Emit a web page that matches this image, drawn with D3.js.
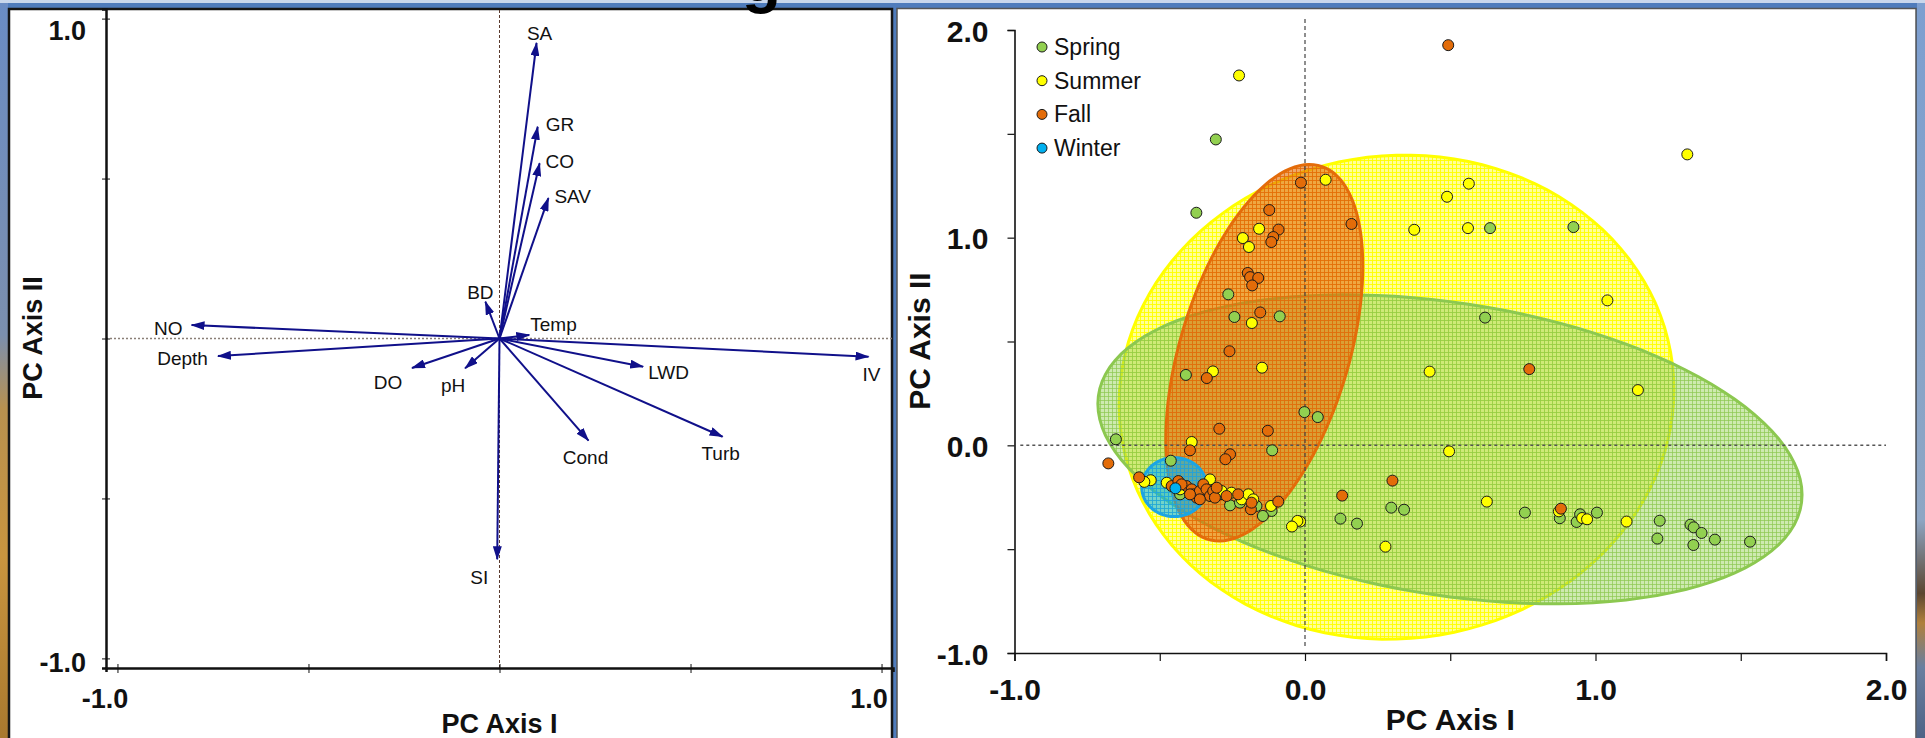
<!DOCTYPE html>
<html>
<head>
<meta charset="utf-8">
<script src="https://cdn.jsdelivr.net/npm/d3@7"></script>
<style>
body { margin: 0; background: #4f7cbc; overflow: hidden; }
svg { display: block; }
text { font-family: "Liberation Sans", Arial, Helvetica, sans-serif; }
</style>
</head>
<body>
<div id="chart"></div>
<script>
// ---- left plot: PCA loadings ----
const variables   = ["SA", "GR", "CO", "SAV", "BD", "Temp", "NO", "Depth", "IV", "LWD", "DO", "pH", "Cond", "Turb", "SI"];
const pc1Loadings = [0.097, 0.100, 0.105, 0.128, -0.037, 0.078, -0.806, -0.737, 0.966, 0.376, -0.229, -0.090, 0.233, 0.584, -0.006];
const pc2Loadings = [0.924, 0.662, 0.548, 0.439, 0.115, 0.011, 0.042, -0.055, -0.057, -0.088, -0.092, -0.093, -0.319, -0.307, -0.690];

// ---- right plot: site scores by season, [PC I, PC II] ----
const seasons = ["Spring", "Summer", "Fall", "Winter"];
const springScores = [[-0.307,1.473],[-0.374,1.12],[0.637,1.046],[0.924,1.051],[0.62,0.615],[-0.264,0.727],[-0.243,0.618],
  [-0.087,0.621],[-0.41,0.339],[-0.002,0.16],[0.044,0.136],[-0.651,0.029],[-0.113,-0.024],[-0.462,-0.074],[0.297,-0.3],
  [0.341,-0.31],[0.122,-0.353],[0.179,-0.377],[0.757,-0.324],[0.877,-0.351],[0.935,-0.369],[0.947,-0.332],[1.005,-0.324],
  [1.221,-0.363],[1.213,-0.449],[1.327,-0.382],[1.338,-0.395],[1.365,-0.422],[1.337,-0.48],[1.411,-0.454],[1.532,-0.464],
  [-0.258,-0.289],[-0.115,-0.316],[-0.145,-0.34],[-0.43,-0.236],[-0.293,-0.236],[-0.167,-0.292],[-0.224,-0.276]];
const summerScores = [[-0.227,1.781],[1.316,1.401],[0.071,1.279],[0.564,1.26],[0.489,1.197],[0.376,1.038],[0.561,1.046],
  [1.041,0.698],[-0.158,1.043],[-0.214,0.998],[-0.193,0.955],[-0.183,0.589],[-0.317,0.356],[-0.148,0.374],[0.429,0.355],
  [1.146,0.266],[-0.39,0.016],[0.496,-0.029],[0.626,-0.271],[0.277,-0.488],[-0.017,-0.367],[0.874,-0.318],[0.954,-0.35],
  [0.971,-0.356],[1.107,-0.367],[-0.531,-0.168],[-0.553,-0.176],[-0.117,-0.292],[-0.026,-0.364],[-0.045,-0.391],
  [-0.476,-0.18],[-0.43,-0.212],[-0.327,-0.164],[-0.287,-0.22],[-0.253,-0.228],[-0.218,-0.26],[-0.195,-0.236],[-0.178,-0.26]];
const fallScores = [[0.493,1.927],[-0.014,1.265],[0.16,1.066],[-0.123,1.133],[-0.091,1.039],[-0.109,1.003],[-0.116,0.979],
  [-0.197,0.83],[-0.189,0.81],[-0.161,0.806],[-0.182,0.77],[-0.154,0.64],[-0.26,0.453],[-0.338,0.324],[-0.295,0.08],
  [-0.128,0.07],[-0.396,-0.024],[-0.258,-0.043],[-0.274,-0.067],[-0.677,-0.087],[-0.571,-0.154],[0.772,0.367],[0.301,-0.17],
  [0.128,-0.242],[0.881,-0.305],[-0.186,-0.308],[-0.092,-0.271],[-0.459,-0.196],[-0.436,-0.172],[-0.408,-0.196],
  [-0.39,-0.212],[-0.384,-0.236],[-0.373,-0.252],[-0.362,-0.22],[-0.35,-0.188],[-0.339,-0.212],[-0.327,-0.244],
  [-0.316,-0.22],[-0.31,-0.252],[-0.304,-0.204],[-0.27,-0.244],[-0.23,-0.236],[-0.184,-0.276],[-0.362,-0.26],
  [-0.396,-0.236],[-0.425,-0.188]];
const winterScores = [[-0.446,-0.207]];

// season ellipses: centre and two conjugate semi-axes (PC units)
const ellipseCentres = [[0.499, -0.019], [0.315, 0.232], [-0.14, 0.446], [-0.45, -0.201]];
const ellipseAxisA   = [[1.212, -0.219], [0.955, 0.036], [0.339, 0.417], [0.112, 0]];
const ellipseAxisB   = [[0, 0.711], [0, 1.165], [0, 0.805], [0, 0.142]];

const leftTicks  = [-1, -0.5, 0, 0.5, 1];
const rightTicks = [-1, -0.5, 0, 0.5, 1, 1.5, 2];

const width = 1925, height = 738;
const seasonFill   = ["#92d050", "#ffff00", "#e36c09", "#00b0f0"];
const seasonStroke = ["#8cc850", "#ffff00", "#e46c0a", "#1ba5e3"];

const svg = d3.select("#chart").append("svg")
  .attr("width", width)
  .attr("height", height);

const defs = svg.append("defs");

// backdrop strips (slide background)
const gl = defs.append("linearGradient").attr("id", "leftStrip").attr("x1", 0).attr("y1", 0).attr("x2", 0).attr("y2", 1);
[["0%", "#6a8cc4"], ["45%", "#7b8fae"], ["55%", "#b8914f"], ["75%", "#c9953f"], ["100%", "#a8782e"]]
  .forEach(s => gl.append("stop").attr("offset", s[0]).attr("stop-color", s[1]));
const gr = defs.append("linearGradient").attr("id", "rightStrip").attr("x1", 0).attr("y1", 0).attr("x2", 0).attr("y2", 1);
[["0%", "#7d9fd0"], ["70%", "#8ea6c4"], ["80%", "#5b4630"], ["84%", "#b0803c"], ["90%", "#6a7fa0"], ["100%", "#4d6285"]]
  .forEach(s => gr.append("stop").attr("offset", s[0]).attr("stop-color", s[1]));

svg.append("rect").attr("width", width).attr("height", height).attr("fill", "#4f7cbc");
svg.append("rect").attr("width", width).attr("height", 3).attr("fill", "#c9d7ec");
svg.append("rect").attr("x", 0).attr("y", 3).attr("width", 8).attr("height", height).attr("fill", "url(#leftStrip)");
svg.append("rect").attr("x", 1917).attr("y", 3).attr("width", 8).attr("height", height).attr("fill", "url(#rightStrip)");

// panels
svg.append("rect").attr("x", 9).attr("y", 9).attr("width", 883).attr("height", 760)
  .attr("fill", "white").attr("stroke", "#151515").attr("stroke-width", 2.5);
svg.append("rect").attr("x", 897).attr("y", 8.5).attr("width", 1019).attr("height", 760)
  .attr("fill", "white").attr("stroke", "#555").attr("stroke-width", 1.5);

// title descender peeking in at the top
svg.append("text").attr("x", 742).attr("y", 1)
  .style("font-size", "64px").style("font-weight", "bold").attr("fill", "#000").text("g");

// ================= left: loadings biplot =================
const xL = d3.scaleLinear().domain([-1.03, 1.03]).range([106, 893]);
const yL = d3.scaleLinear().domain([-1.03, 1.03]).range([668, 9]);

// zero reference lines
svg.append("line").attr("x1", xL.range()[0]).attr("x2", xL.range()[1]).attr("y1", yL(0)).attr("y2", yL(0))
  .attr("stroke", "#8a7f77").attr("stroke-width", 1.5).attr("stroke-dasharray", "2,2");
svg.append("line").attr("x1", xL(0)).attr("x2", xL(0)).attr("y1", 10).attr("y2", yL.range()[0])
  .attr("stroke", "#5a3b2e").attr("stroke-width", 1).attr("stroke-dasharray", "3,2");

const gyL = svg.append("g").attr("transform", `translate(${xL.range()[0]},0)`)
  .call(d3.axisLeft(yL).tickValues(leftTicks).tickSizeOuter(0).tickSize(4)
    .tickFormat(d => Math.abs(d) === 1 ? d.toFixed(1) : ""));
gyL.selectAll(".tick line").attr("x1", -4).attr("x2", 4).attr("stroke", "#111");
gyL.selectAll(".tick text").attr("x", -20).attr("dy", null)
  .attr("y", d => d === 1 ? 21 : 13)
  .style("font-size", "27px").style("font-weight", "bold").attr("fill", "#111");

const gxL = svg.append("g").attr("transform", `translate(0,${yL.range()[0]})`)
  .call(d3.axisBottom(xL).tickValues(leftTicks).tickSizeOuter(0).tickSize(4)
    .tickFormat(d => Math.abs(d) === 1 ? d.toFixed(1) : ""));
gxL.selectAll(".tick line").attr("y1", -4).attr("y2", 5).attr("stroke", "#111");
gxL.selectAll(".tick text").attr("dy", null).attr("y", 40).attr("x", -13)
  .style("font-size", "27px").style("font-weight", "bold").attr("fill", "#111");
[gyL, gxL].forEach(g => g.select(".domain").attr("stroke", "#111").attr("stroke-width", 2.5));

svg.append("text").attr("x", xL(0)).attr("y", 733).attr("text-anchor", "middle")
  .style("font-size", "27px").style("font-weight", "bold").attr("fill", "#111").text("PC Axis I");
svg.append("text").attr("transform", "translate(42,338) rotate(-90)").attr("text-anchor", "middle")
  .style("font-size", "27px").style("font-weight", "bold").attr("fill", "#111").text("PC Axis II");

defs.append("marker").attr("id", "arrowHead")
  .attr("viewBox", "0 0 14 9").attr("refX", 13).attr("refY", 4.5)
  .attr("markerUnits", "userSpaceOnUse").attr("markerWidth", 14).attr("markerHeight", 9)
  .attr("orient", "auto")
  .append("path").attr("d", "M0,0L14,4.5L0,9Z").attr("fill", "#10108a");

const loadings = variables.map((v, i) => ({name: v, pc1: pc1Loadings[i], pc2: pc2Loadings[i]}));

svg.append("g").selectAll("line")
  .data(loadings)
  .join("line")
  .attr("x1", xL(0)).attr("y1", yL(0))
  .attr("x2", d => xL(d.pc1)).attr("y2", d => yL(d.pc2))
  .attr("stroke", "#10108a").attr("stroke-width", 2)
  .attr("marker-end", "url(#arrowHead)");

// label offsets from arrow tip (px) and anchor
const labelPlacement = {
  SA: [3, -10, "middle"], GR: [8, -3, "start"], CO: [6, -2, "start"], SAV: [6, -2, "start"],
  BD: [-5, -10, "middle"], Temp: [1, -11, "start"], NO: [-9, 3, "end"], Depth: [-10, 2, "end"],
  IV: [3, 17, "middle"], LWD: [5, 5, "start"], DO: [-24, 14, "middle"], pH: [-12, 17, "middle"],
  Cond: [-3, 16, "middle"], Turb: [-2, 16, "middle"], SI: [-18, 18, "middle"]
};

svg.append("g").selectAll("text")
  .data(loadings)
  .join("text")
  .attr("x", d => xL(d.pc1) + labelPlacement[d.name][0])
  .attr("y", d => yL(d.pc2) + labelPlacement[d.name][1] + 7)
  .attr("text-anchor", d => labelPlacement[d.name][2])
  .style("font-size", "19px").attr("fill", "#111")
  .text(d => d.name);

// ================= right: site scores =================
const xR = d3.scaleLinear().domain([-1, 2]).range([1014.5, 1886]);
const yR = d3.scaleLinear().domain([-1, 2]).range([653, 30]);

// grid-hatched fills for the ellipses
const baseOpacity = [0.45, 0.4, 0.6, 0.55];
const lineOpacity = [0.7, 0.9, 0.85, 0.8];
seasons.forEach((s, i) => {
  const p = defs.append("pattern").attr("id", "grid" + i)
    .attr("patternUnits", "userSpaceOnUse").attr("width", 4).attr("height", 4);
  p.append("rect").attr("width", 4).attr("height", 4)
    .attr("fill", seasonFill[i]).attr("fill-opacity", baseOpacity[i]);
  p.append("path").attr("d", "M0,0.5H4M0.5,0V4")
    .attr("stroke", seasonStroke[i]).attr("stroke-opacity", lineOpacity[i]).attr("stroke-width", 1);
});

function ellipsePoints(c, a, b) {
  return d3.range(120).map(k => {
    const t = k / 120 * 2 * Math.PI;
    return [c[0] + a[0] * Math.cos(t) + b[0] * Math.sin(t), c[1] + a[1] * Math.cos(t) + b[1] * Math.sin(t)];
  });
}
const ellLine = d3.line().x(d => xR(d[0])).y(d => yR(d[1])).curve(d3.curveLinearClosed);

// draw order: Summer, Spring, Fall, Winter
[1, 0, 2, 3].forEach(i => {
  svg.append("path")
    .attr("d", ellLine(ellipsePoints(ellipseCentres[i], ellipseAxisA[i], ellipseAxisB[i])))
    .attr("fill", `url(#grid${i})`)
    .attr("stroke", seasonStroke[i]).attr("stroke-width", 3);
});

// zero reference lines
svg.append("line").attr("x1", xR(-0.98)).attr("x2", xR(2)).attr("y1", yR(0)).attr("y2", yR(0))
  .attr("stroke", "#555").attr("stroke-width", 1.5).attr("stroke-dasharray", "3,3");
svg.append("line").attr("x1", xR(0)).attr("x2", xR(0)).attr("y1", 19).attr("y2", yR(-0.97))
  .attr("stroke", "#444").attr("stroke-width", 1.2).attr("stroke-dasharray", "4,3");

const allScores = [springScores, summerScores, fallScores, winterScores];
allScores.forEach((scores, i) => {
  svg.append("g").selectAll("circle")
    .data(scores)
    .join("circle")
    .attr("cx", d => xR(d[0]))
    .attr("cy", d => yR(d[1]))
    .attr("r", 5.5)
    .attr("fill", seasonFill[i])
    .attr("stroke", "#1a1a1a").attr("stroke-width", 1);
});

const gyR = svg.append("g").attr("transform", `translate(${xR.range()[0]},0)`)
  .call(d3.axisLeft(yR).tickValues(rightTicks).tickSizeOuter(0).tickSize(7).tickPadding(19)
    .tickFormat(d => Number.isInteger(d) ? d.toFixed(1) : ""));
gyR.selectAll(".tick text").attr("dy", null).attr("y", 11)
  .style("font-size", "30px").style("font-weight", "bold").attr("fill", "#111");

const gxR = svg.append("g").attr("transform", `translate(0,${yR.range()[0]})`)
  .call(d3.axisBottom(xR).tickValues(rightTicks).tickSizeOuter(0).tickSize(8)
    .tickFormat(d => Number.isInteger(d) ? d.toFixed(1) : ""));
gxR.selectAll(".tick text").attr("dy", null).attr("y", 47)
  .style("font-size", "30px").style("font-weight", "bold").attr("fill", "#111");
[gyR, gxR].forEach(g => {
  g.select(".domain").attr("stroke", "#111").attr("stroke-width", 1.6);
  g.selectAll(".tick line").attr("stroke", "#111").attr("stroke-width", 1.2);
});

svg.append("text").attr("x", xR(0.5)).attr("y", 730).attr("text-anchor", "middle")
  .style("font-size", "30px").style("font-weight", "bold").attr("fill", "#111").text("PC Axis I");
svg.append("text").attr("transform", "translate(930,341) rotate(-90)").attr("text-anchor", "middle")
  .style("font-size", "30px").style("font-weight", "bold").attr("fill", "#111").text("PC Axis II");

// legend
const legend = svg.append("g").attr("transform", "translate(1042,47)");
seasons.forEach((s, i) => {
  const row = legend.append("g").attr("transform", `translate(0,${i * 33.7})`);
  row.append("circle").attr("r", 5).attr("fill", seasonFill[i]).attr("stroke", "#1a1a1a").attr("stroke-width", 1);
  row.append("text").attr("x", 12).attr("y", 8).style("font-size", "23px").attr("fill", "#111").text(s);
});
</script>
</body>
</html>
